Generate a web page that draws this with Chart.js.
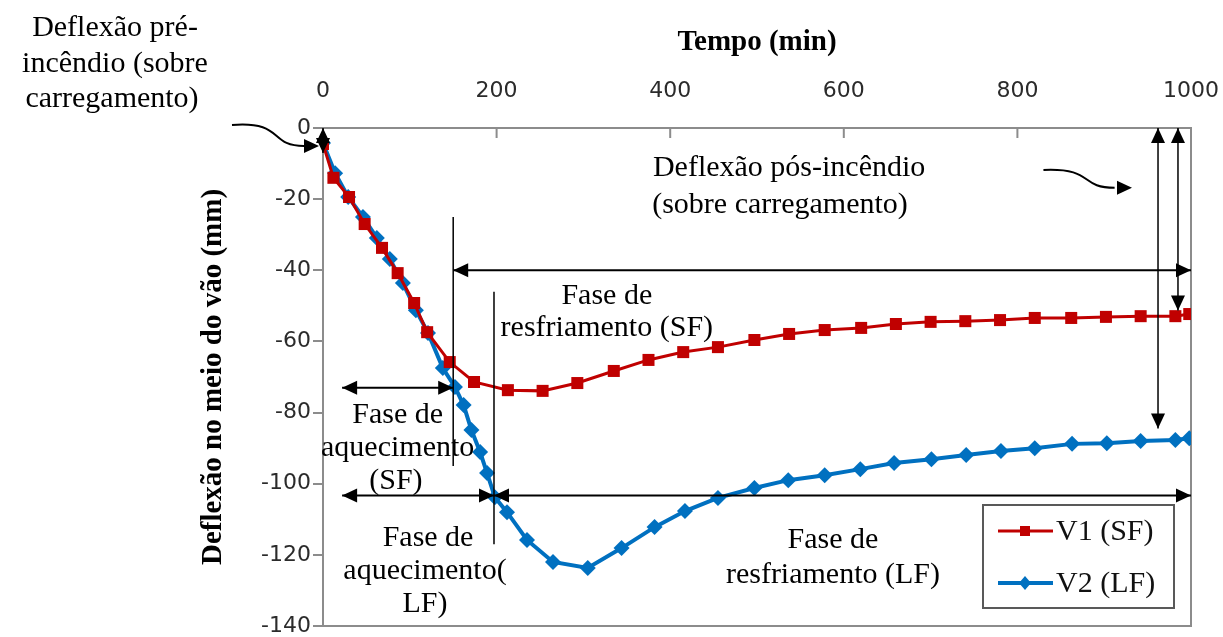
<!DOCTYPE html>
<html>
<head>
<meta charset="utf-8">
<script src="https://cdn.jsdelivr.net/npm/chart.js"></script>
<style>
  body { margin: 0; background: #fff; }
  #wrap { width: 1223px; height: 637px; }
</style>
</head>
<body>
<div id="wrap"><canvas id="chart" width="1223" height="637"></canvas></div>
<script>
// values
const v1Time = [0, 12, 30, 48, 68, 86, 105, 120, 146, 174, 213, 253, 293, 335, 375, 415, 455, 497, 537, 578, 620, 660, 700, 740, 780, 820, 862, 902, 942, 982, 998];
const v1Defl = [-4.5, -14, -19.4, -27, -33.7, -40.8, -49.2, -57.4, -65.8, -71.4, -73.7, -73.9, -71.7, -68.3, -65.2, -63, -61.6, -59.6, -57.9, -56.8, -56.2, -55.1, -54.5, -54.3, -54, -53.4, -53.4, -53.1, -52.9, -52.9, -52.3];

const v2Time = [0, 14, 29, 46, 62, 77, 92, 107, 121, 138, 152, 162, 171, 181, 189, 198, 212, 235, 265, 305, 344, 382, 417, 455, 497, 536, 578, 619, 658, 701, 741, 781, 820, 863, 903, 942, 982, 998];
const v2Defl = [-4.2, -12.7, -19.4, -25, -30.9, -36.8, -43.6, -51.2, -57.6, -67.5, -72.8, -77.9, -84.9, -91.1, -97, -103.8, -108, -115.8, -122, -123.7, -118.1, -112.2, -107.7, -104, -101.2, -99, -97.6, -95.9, -94.2, -93.1, -91.9, -90.8, -90, -88.8, -88.6, -88, -87.7, -87.2];

const seriesNames = ['V1 (SF)', 'V2 (LF)'];
const xTicks = { min: 0, max: 1000, step: 200 };
const yTicks = { min: -140, max: 0, step: 20 };

const RED = '#c00000';
const BLUE = '#0070c0';
const SERIF = "'Liberation Serif', 'Times New Roman', serif";

function toPoints(xs, ys) {
  return xs.map((x, i) => ({ x: x, y: ys[i] }));
}

// annotations, placed in data units (time, deflection)
const phaseTexts = [
  { x: 327, y: -47.2, t: 'Fase de' },
  { x: 327, y: -56.2, t: 'resfriamento (SF)' },
  { x: 86, y: -80.7, t: 'Fase de' },
  { x: 86, y: -90, t: 'aquecimento' },
  { x: 84, y: -99.2, t: '(SF)' },
  { x: 121, y: -115.3, t: 'Fase de' },
  { x: 117.5, y: -124.5, t: 'aquecimento(' },
  { x: 117.5, y: -133.8, t: 'LF)' },
  { x: 587.5, y: -115.8, t: 'Fase de' },
  { x: 587.5, y: -125.7, t: 'resfriamento (LF)' },
  { x: 537, y: -11.2, t: 'Deflexão pós-incêndio' },
  { x: 526.5, y: -21.6, t: '(sobre carregamento)' }
];

function head(ctx, tx, ty, fx, fy) {
  const a = Math.atan2(ty - fy, tx - fx);
  const L = 15, W = 7;
  const bx = tx - L * Math.cos(a), by = ty - L * Math.sin(a);
  ctx.beginPath();
  ctx.moveTo(tx, ty);
  ctx.lineTo(bx - W * Math.sin(a), by + W * Math.cos(a));
  ctx.lineTo(bx + W * Math.sin(a), by - W * Math.cos(a));
  ctx.closePath();
  ctx.fill();
}

function arrow(ctx, x1, y1, x2, y2, startHead, endHead) {
  ctx.beginPath();
  ctx.moveTo(x1, y1);
  ctx.lineTo(x2, y2);
  ctx.stroke();
  if (startHead) head(ctx, x1, y1, x2, y2);
  if (endHead) head(ctx, x2, y2, x1, y1);
}

const annotations = {
  id: 'annotations',
  beforeDatasetsDraw(chart) {
    const { ctx, chartArea: a, scales } = chart;
    ctx.save();
    // plot frame
    ctx.strokeStyle = '#8c8c8c';
    ctx.lineWidth = 2;
    ctx.strokeRect(a.left, a.top, a.right - a.left, a.bottom - a.top);
    // inward tick marks on the top axis
    scales.x.ticks.forEach(t => {
      const px = scales.x.getPixelForValue(t.value);
      ctx.beginPath();
      ctx.moveTo(px, a.top);
      ctx.lineTo(px, a.top + 10);
      ctx.stroke();
    });
    ctx.restore();
  },
  afterDatasetsDraw(chart) {
    const { ctx, scales } = chart;
    const X = v => scales.x.getPixelForValue(v);
    const Y = v => scales.y.getPixelForValue(v);
    ctx.save();
    ctx.strokeStyle = '#000';
    ctx.fillStyle = '#000';

    // phase boundaries
    ctx.lineWidth = 1.5;
    ctx.beginPath();
    ctx.moveTo(X(150), Y(-25)); ctx.lineTo(X(150), Y(-95));
    ctx.moveTo(X(197), Y(-46)); ctx.lineTo(X(197), Y(-117));
    ctx.stroke();

    ctx.lineWidth = 2;
    arrow(ctx, X(150), Y(-40), X(1000), Y(-40), true, true);
    arrow(ctx, X(22), Y(-73), X(150), Y(-73), true, true);
    arrow(ctx, X(22), Y(-103.3), X(197), Y(-103.3), true, true);
    arrow(ctx, X(197), Y(-103.3), X(1000), Y(-103.3), true, true);

    // pre / post fire deflection markers
    ctx.lineWidth = 1.5;
    arrow(ctx, X(0), Y(0), X(0), Y(-7), true, true);
    arrow(ctx, X(962), Y(0), X(962), Y(-84.5), true, true);
    arrow(ctx, X(985), Y(0), X(985), Y(-51.3), true, true);

    // curved pointers
    ctx.lineWidth = 2;
    ctx.beginPath();
    ctx.moveTo(232, 125);
    ctx.bezierCurveTo(285, 121, 268, 146, 304, 146);
    ctx.stroke();
    head(ctx, X(0) - 4, 146, 290, 146);

    ctx.beginPath();
    ctx.moveTo(X(830), Y(-11.8));
    ctx.bezierCurveTo(X(890), Y(-11.2), X(870), Y(-16.8), X(912), Y(-16.8));
    ctx.stroke();
    head(ctx, X(932), Y(-16.8), X(900), Y(-16.8));

    // texts
    ctx.font = '30px ' + SERIF;
    ctx.textAlign = 'center';
    ctx.textBaseline = 'middle';
    phaseTexts.forEach(p => ctx.fillText(p.t, X(p.x), Y(p.y)));

    ctx.fillText('Deflexão pré-', 115, 28);
    ctx.fillText('incêndio (sobre', 115, 64);
    ctx.fillText('carregamento)', 112, 99);

    // legend box
    const lx = 983, ly = 505, lw = 191, lh = 103;
    ctx.fillStyle = '#fff';
    ctx.fillRect(lx, ly, lw, lh);
    ctx.strokeStyle = '#595959';
    ctx.lineWidth = 2;
    ctx.strokeRect(lx, ly, lw, lh);
    const rows = [
      { y: ly + 26, c: RED, w: 3, name: seriesNames[0], sq: true },
      { y: ly + 78, c: BLUE, w: 4, name: seriesNames[1], sq: false }
    ];
    rows.forEach(r => {
      ctx.strokeStyle = r.c;
      ctx.fillStyle = r.c;
      ctx.lineWidth = r.w;
      ctx.beginPath();
      ctx.moveTo(lx + 15, r.y); ctx.lineTo(lx + 70, r.y);
      ctx.stroke();
      const cx = lx + 42;
      if (r.sq) {
        ctx.fillRect(cx - 5, r.y - 5, 10, 10);
      } else {
        ctx.beginPath();
        ctx.moveTo(cx - 6, r.y); ctx.lineTo(cx, r.y - 7);
        ctx.lineTo(cx + 6, r.y); ctx.lineTo(cx, r.y + 7);
        ctx.closePath(); ctx.fill();
      }
      ctx.fillStyle = '#111';
      ctx.textAlign = 'left';
      ctx.fillText(r.name, lx + 73, r.y + 1);
    });
    ctx.restore();
  }
};

new Chart(document.getElementById('chart'), {
  type: 'line',
  data: {
    datasets: [
      {
        label: seriesNames[0],
        data: toPoints(v1Time, v1Defl),
        borderColor: RED,
        backgroundColor: RED,
        borderWidth: 3,
        pointStyle: 'rect',
        pointRadius: 8.5,
        pointBorderWidth: 0,
        tension: 0
      },
      {
        label: seriesNames[1],
        data: toPoints(v2Time, v2Defl),
        borderColor: BLUE,
        backgroundColor: BLUE,
        borderWidth: 4,
        pointStyle: 'rectRot',
        pointRadius: 8,
        pointBorderWidth: 0,
        tension: 0
      }
    ]
  },
  options: {
    responsive: false,
    animation: false,
    layout: { padding: { left: 190, top: 20, right: 32, bottom: 11 } },
    plugins: {
      legend: { display: false },
      tooltip: { enabled: false }
    },
    scales: {
      x: {
        type: 'linear',
        position: 'top',
        min: xTicks.min,
        max: xTicks.max,
        ticks: { stepSize: xTicks.step, padding: 24, maxRotation: 0, color: '#2b2b2b', font: { family: 'DejaVu Sans', size: 22 }, callback: v => String(v) },
        grid: { display: false, drawTicks: false },
        border: { display: false },
        title: { display: true, text: 'Tempo (min)', color: '#000', padding: { top: 5, bottom: 0 }, font: { family: SERIF, size: 29, weight: 'bold' } },
        afterFit: s => { s.height = 108; s.paddingRight = 0; s.paddingLeft = 0; }
      },
      y: {
        min: yTicks.min,
        max: yTicks.max,
        ticks: { stepSize: yTicks.step, padding: 2, color: '#2b2b2b', font: { family: 'DejaVu Sans', size: 22 }, callback: v => String(v) },
        grid: { drawOnChartArea: false, drawTicks: true, tickLength: 10, color: '#8c8c8c', lineWidth: 2 },
        border: { display: false },
        title: { display: true, text: 'Deflexão no meio do vão (mm)', color: '#000', padding: { top: 6, bottom: 0 }, font: { family: SERIF, size: 29, weight: 'bold' } },
        afterFit: s => { s.width = 133; s.paddingTop = 0; s.paddingBottom = 0; }
      }
    }
  },
  plugins: [annotations]
});
</script>
</body>
</html>
